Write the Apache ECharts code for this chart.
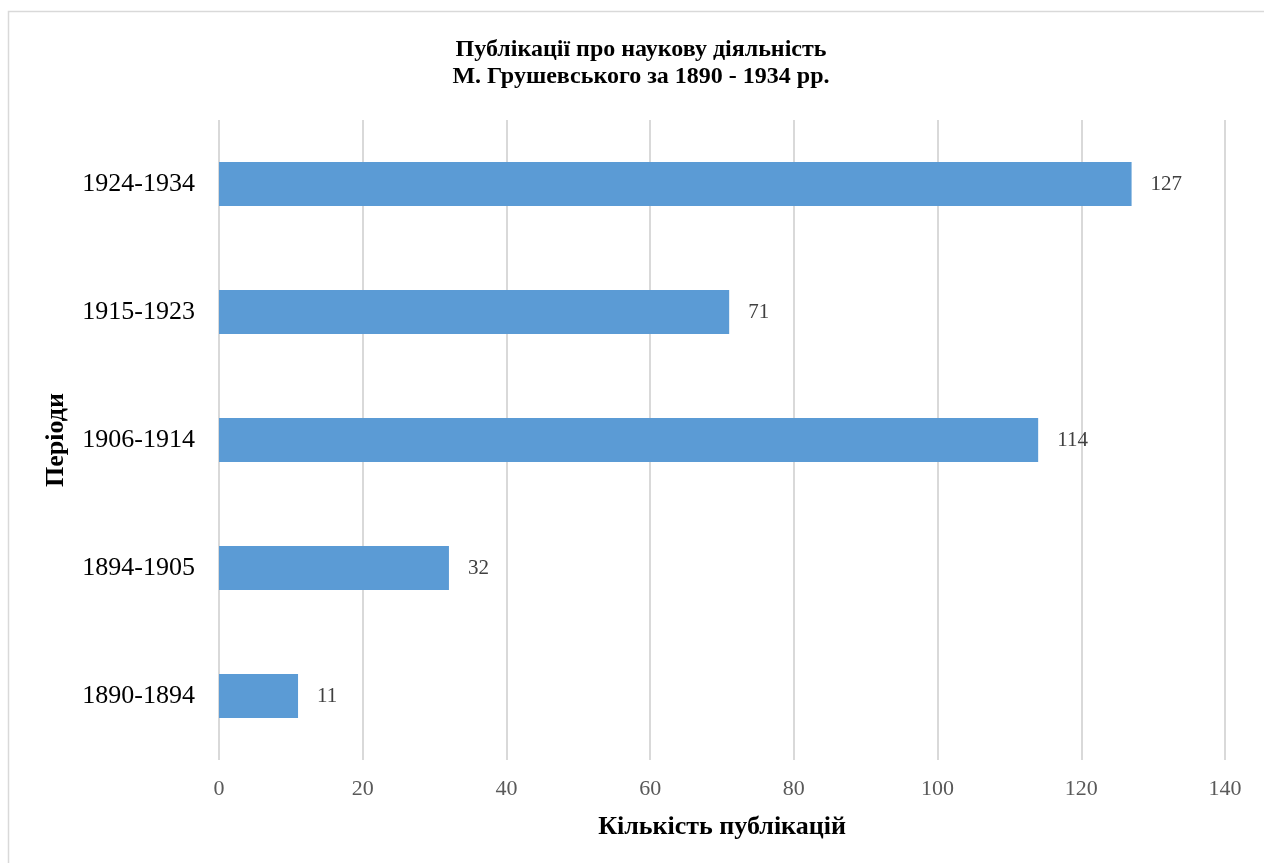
<!DOCTYPE html>
<html><head><meta charset="utf-8">
<script src="https://cdn.jsdelivr.net/npm/echarts@6/dist/echarts.min.js"></script>
<style>html,body{margin:0;padding:0;background:#fff}#c{width:1264px;height:863px}</style>
</head><body><div id="c"></div>
<script>
const categories = ['1890-1894','1894-1905','1906-1914','1915-1923','1924-1934'];
const values = [11, 32, 114, 71, 127];
const xTicks = {min:0, max:140, interval:20};
const titleText = 'Публікації про наукову діяльність\nМ. Грушевського за 1890 - 1934 рр.';
const xName = 'Кількість публікацій';
const yName = 'Періоди';

const serif = '"Liberation Serif", "DejaVu Serif", serif';
const chart = echarts.init(document.getElementById('c'));
chart.setOption({
  animation:false,
  backgroundColor:'#fff',
  graphic:[
    {type:'rect', shape:{x:8.5,y:11.5,width:1300,height:900}, style:{fill:'none', stroke:'#d9d9d9', lineWidth:1.5}, silent:true},
    {type:'text', x:641, y:63, style:{text:titleText, textAlign:'center', textVerticalAlign:'middle',
      font:'bold 24px "Liberation Serif", serif', lineHeight:27, fill:'#000'}, silent:true}
  ],
  grid:{left:219, right:39, top:120, bottom:103, containLabel:false},
  xAxis:{type:'value', min:xTicks.min, max:xTicks.max, interval:xTicks.interval,
    name:xName, nameLocation:'middle', nameGap:54,
    nameTextStyle:{fontFamily:serif, fontWeight:'bold', fontSize:26, color:'#000'},
    axisLine:{show:false}, axisTick:{show:false},
    axisLabel:{fontFamily:serif, fontSize:22, color:'#595959', margin:18},
    splitLine:{lineStyle:{color:'#d9d9d9', width:2}}},
  yAxis:{type:'category', data:categories,
    name:yName, nameLocation:'middle', nameGap:150, nameRotate:90,
    nameTextStyle:{fontFamily:serif, fontWeight:'bold', fontSize:26, color:'#000'},
    axisLine:{show:false}, axisTick:{show:false},
    axisLabel:{fontFamily:serif, fontSize:26, color:'#000', margin:24}},
  series:[{type:'bar', data:values, barWidth:44,
    itemStyle:{color:'#5b9bd5'},
    label:{show:true, position:'right', distance:19, fontFamily:serif, fontSize:21, color:'#404040'}}]
});
</script></body></html>
